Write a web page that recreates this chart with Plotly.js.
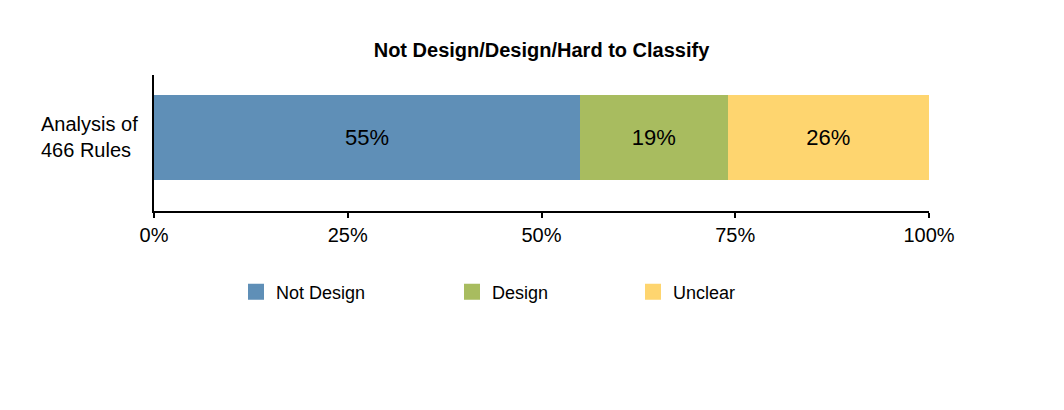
<!DOCTYPE html>
<html><head><meta charset="utf-8">
<script src="https://cdn.plot.ly/plotly-3.0.1.min.js"></script>
<style>body{margin:0}#c{width:1064px;height:410px}</style>
</head><body><div id="c"></div>
<script>
var categories = ['Analysis of<br>466 Rules'];
var seriesNames = ['Not Design', 'Design', 'Unclear'];
var notDesign = [55];
var design = [19];
var unclear = [26];
var tickVals = [0, 25, 50, 75, 100];
var tickText = ['0%', '25%', '50%', '75%', '100%'];
var colors = ['#5f8fb7', '#a8bc5f', '#fed56f'];
var values = [notDesign, design, unclear];
var legendIds = ['legend', 'legend2', 'legend3'];
var legendX = [236, 452, 633];

var FONT = 'Liberation Sans, Arial, sans-serif';
var traces = values.map(function (v, i) {
  return {
    type: 'bar', orientation: 'h', name: seriesNames[i],
    x: v, y: categories,
    marker: {color: colors[i]},
    text: v.map(function (d) { return d + '%'; }),
    textposition: 'inside', insidetextanchor: 'middle',
    textfont: {color: '#000', size: 22, family: FONT},
    hoverinfo: 'none', showlegend: false
  };
});
// legend-only entries (larger swatches)
values.forEach(function (v, i) {
  traces.push({
    type: 'bar', orientation: 'h', name: seriesNames[i],
    x: [null], y: [categories[0]],
    marker: {color: colors[i], line: {color: colors[i], width: 4}},
    hoverinfo: 'none', showlegend: true, legend: legendIds[i]
  });
});

var layout = {
  width: 1064, height: 410,
  margin: {l: 154, r: 135, t: 75, b: 199},
  paper_bgcolor: '#fff', plot_bgcolor: '#fff',
  barmode: 'stack', bargap: 0, showlegend: true,
  font: {family: FONT, size: 18, color: '#000'},
  title: {text: '<b>Not Design/Design/Hard to Classify</b>', font: {size: 20, family: FONT},
          xref: 'paper', x: 0.5, xanchor: 'center', y: 1 - 50 / 410, yanchor: 'middle'},
  xaxis: {range: [0, 100], tickvals: tickVals, ticktext: tickText, showgrid: false,
          showline: true, linecolor: '#000', linewidth: 2, ticks: 'outside', ticklen: 5,
          tickwidth: 2, tickcolor: '#000', tickfont: {size: 20}, zeroline: false, fixedrange: true},
  yaxis: {type: 'category', range: [-0.865, 0.735], showgrid: false, showline: true,
          linecolor: '#000', linewidth: 2, ticks: '', showticklabels: false,
          fixedrange: true},
  annotations: categories.map(function (c) {
    return {text: c, xref: 'paper', x: -14 / 775, xanchor: 'right', yref: 'y', y: c,
            yanchor: 'middle', align: 'left', showarrow: false, font: {size: 20}};
  })
};
legendIds.forEach(function (id, i) {
  layout[id] = {
    x: legendX[i] / 1064, xref: 'container', xanchor: 'left',
    y: 1 - 292 / 410, yref: 'container', yanchor: 'middle',
    orientation: 'h', font: {size: 18}, bgcolor: 'rgba(0,0,0,0)'
  };
});

Plotly.newPlot('c', traces, layout, {displayModeBar: false, staticPlot: true});
</script></body></html>
